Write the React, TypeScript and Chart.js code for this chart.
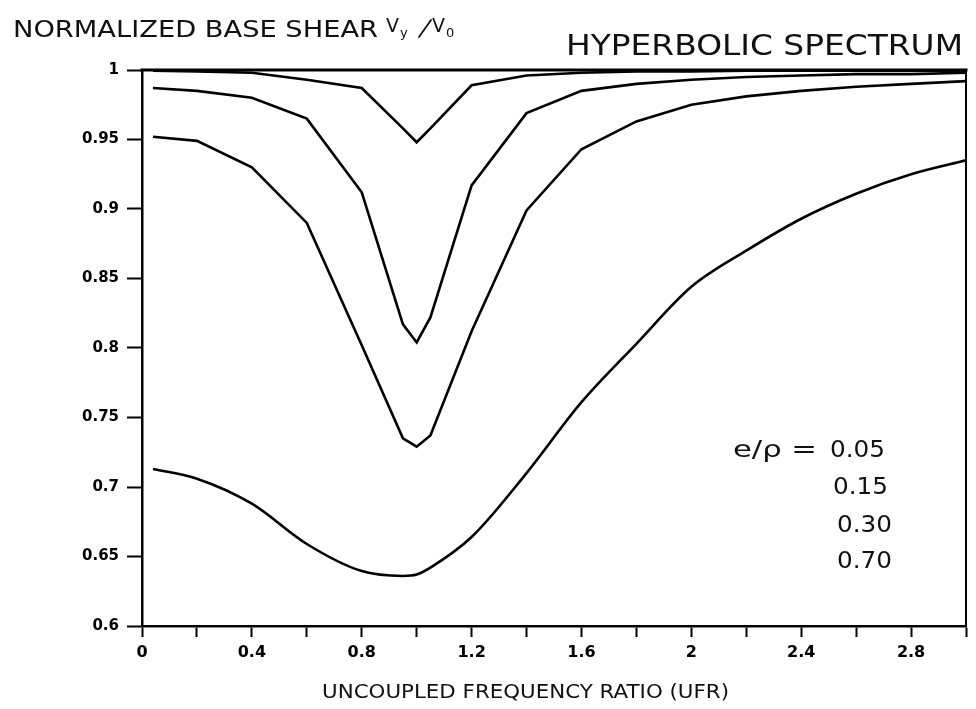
import React, { useEffect, useRef } from 'react';
import { Chart, registerables } from 'chart.js';

Chart.register(...registerables);

// ---- data ----
const ufr = [0.04, 0.2, 0.4, 0.6, 0.8, 0.95, 1.0, 1.05, 1.2, 1.4, 1.6, 1.8, 2.0, 2.2, 2.4, 2.6, 2.8, 3.0];
const shear005 = [0.9995, 0.999, 0.998, 0.993, 0.987, 0.958, 0.948, 0.958, 0.989, 0.996, 0.998, 0.999, 0.999, 0.9995, 0.9995, 0.9995, 0.9995, 0.9995];
const shear015 = [0.987, 0.985, 0.98, 0.965, 0.912, 0.817, 0.804, 0.822, 0.917, 0.969, 0.985, 0.99, 0.993, 0.995, 0.996, 0.997, 0.997, 0.998];
const shear030 = [0.952, 0.949, 0.93, 0.89, 0.802, 0.735, 0.729, 0.737, 0.812, 0.899, 0.943, 0.963, 0.975, 0.981, 0.985, 0.988, 0.99, 0.992];
const shear070 = [0.713, 0.706, 0.688, 0.659, 0.6395, 0.636, 0.637, 0.642, 0.664, 0.71, 0.761, 0.803, 0.844, 0.87, 0.893, 0.911, 0.925, 0.935];
const seriesLabels = ['0.05', '0.15', '0.30', '0.70'];
const seriesValues = [shear005, shear015, shear030, shear070];

const titleLeft = 'NORMALIZED BASE SHEAR';
const titleRight = 'HYPERBOLIC SPECTRUM';
const xAxisTitle = 'UNCOUPLED FREQUENCY RATIO (UFR)';
const ratioLabel = 'e/\u03C1 =';

const FONT = '"DejaVu Sans", "Liberation Sans", sans-serif';

function fitText(ctx: CanvasRenderingContext2D, text: string, x: number, y: number, font: string, width: number) {
  ctx.save();
  ctx.font = font;
  ctx.textAlign = 'left';
  ctx.textBaseline = 'alphabetic';
  const w = ctx.measureText(text).width || 1;
  ctx.translate(x, y);
  ctx.scale(width / w, 1);
  ctx.fillText(text, 0, 0);
  ctx.restore();
}

function plainText(ctx: CanvasRenderingContext2D, text: string, x: number, y: number, font: string) {
  ctx.save();
  ctx.font = font;
  ctx.textAlign = 'left';
  ctx.textBaseline = 'alphabetic';
  ctx.fillText(text, x, y);
  ctx.restore();
}

const decorPlugin = {
  id: 'decor',
  afterDraw(chart: any) {
    const ctx: CanvasRenderingContext2D = chart.ctx;
    const a = chart.chartArea;
    ctx.save();
    ctx.strokeStyle = '#000';
    ctx.lineCap = 'square';
    // top frame line
    ctx.lineWidth = 3;
    ctx.beginPath();
    ctx.moveTo(a.left, a.top);
    ctx.lineTo(a.right, a.top);
    ctx.stroke();
    // right frame line
    ctx.lineWidth = 2;
    ctx.beginPath();
    ctx.moveTo(a.right, a.top);
    ctx.lineTo(a.right, a.bottom);
    ctx.stroke();
    ctx.fillStyle = '#111';
    ctx.strokeStyle = '#111';

    // left title with V_y / V_0
    fitText(ctx, titleLeft, 13, 37, `23px ${FONT}`, 365);
    plainText(ctx, 'V', 386, 32, `19px ${FONT}`);
    plainText(ctx, 'y', 400, 37, `13px ${FONT}`);
    ctx.lineWidth = 1.8;
    ctx.lineCap = 'round';
    ctx.beginPath();
    ctx.moveTo(419, 37);
    ctx.lineTo(431, 20);
    ctx.stroke();
    plainText(ctx, 'V', 432, 32, `19px ${FONT}`);
    plainText(ctx, '0', 446, 37, `13px ${FONT}`);

    // right title
    fitText(ctx, titleRight, 566, 55, `29px ${FONT}`, 397);

    // x axis title
    fitText(ctx, xAxisTitle, 322, 698, `20px ${FONT}`, 407);

    // ratio annotation
    fitText(ctx, ratioLabel, 733, 457, `23px ${FONT}`, 84);
    const xs = [830, 833, 837, 837];
    const ys = [457, 494, 532, 568];
    seriesLabels.forEach((lab, i) => {
      fitText(ctx, lab, xs[i], ys[i], `23px ${FONT}`, 55);
    });
    ctx.restore();
  },
};

export default function App() {
  const ref = useRef<HTMLCanvasElement | null>(null);

  useEffect(() => {
    document.body.style.margin = '0';
    const canvas = ref.current;
    if (!canvas) return;
    const chart = new Chart(canvas, {
      type: 'line',
      data: {
        datasets: seriesValues.map((vals, i) => ({
          label: seriesLabels[i],
          data: ufr.map((x, j) => ({ x, y: vals[j] })),
          borderColor: '#000',
          borderWidth: 2.6,
          pointRadius: 0,
          fill: false,
          tension: 0,
          cubicInterpolationMode: i === 3 ? 'monotone' : 'default',
        })),
      },
      options: {
        responsive: false,
        animation: false,
        devicePixelRatio: 1,
        layout: { padding: { top: 70, right: 10, bottom: 0, left: 0 }, autoPadding: false },
        plugins: {
          legend: { display: false },
          tooltip: { enabled: false },
          title: { display: false },
        },
        scales: {
          x: {
            type: 'linear',
            min: 0,
            max: 3,
            afterFit: (s: any) => { s.height = 83; },
            border: { display: true, color: '#000', width: 2.5 },
            grid: { display: true, drawOnChartArea: false, drawTicks: true, tickLength: 11, tickWidth: 2, tickColor: '#000' },
            ticks: {
              stepSize: 0.2,
              autoSkip: false,
              maxRotation: 0,
              padding: 6,
              color: '#000',
              font: { family: FONT, size: 16, weight: 'bold' },
              callback: (v: any) => {
                const k = Math.round(Number(v) * 10);
                return k % 4 === 0 ? String(k / 10) : '';
              },
            },
          },
          y: {
            type: 'linear',
            min: 0.6,
            max: 1,
            afterFit: (s: any) => { s.width = 142; },
            border: { display: true, color: '#000', width: 2.5 },
            grid: { display: true, drawOnChartArea: false, drawTicks: true, tickLength: 15, tickWidth: 2, tickColor: '#000' },
            ticks: {
              stepSize: 0.05,
              autoSkip: false,
              padding: 8,
              color: '#000',
              font: { family: FONT, size: 15, weight: 'bold' },
              callback: (v: any) => String(Math.round(Number(v) * 100) / 100),
            },
          },
        },
      } as any,
      plugins: [decorPlugin],
    });
    return () => chart.destroy();
  }, []);

  return (
    <canvas
      ref={ref}
      width={976}
      height={709}
      style={{ position: 'absolute', left: 0, top: 0, width: 976, height: 709 }}
    />
  );
}
